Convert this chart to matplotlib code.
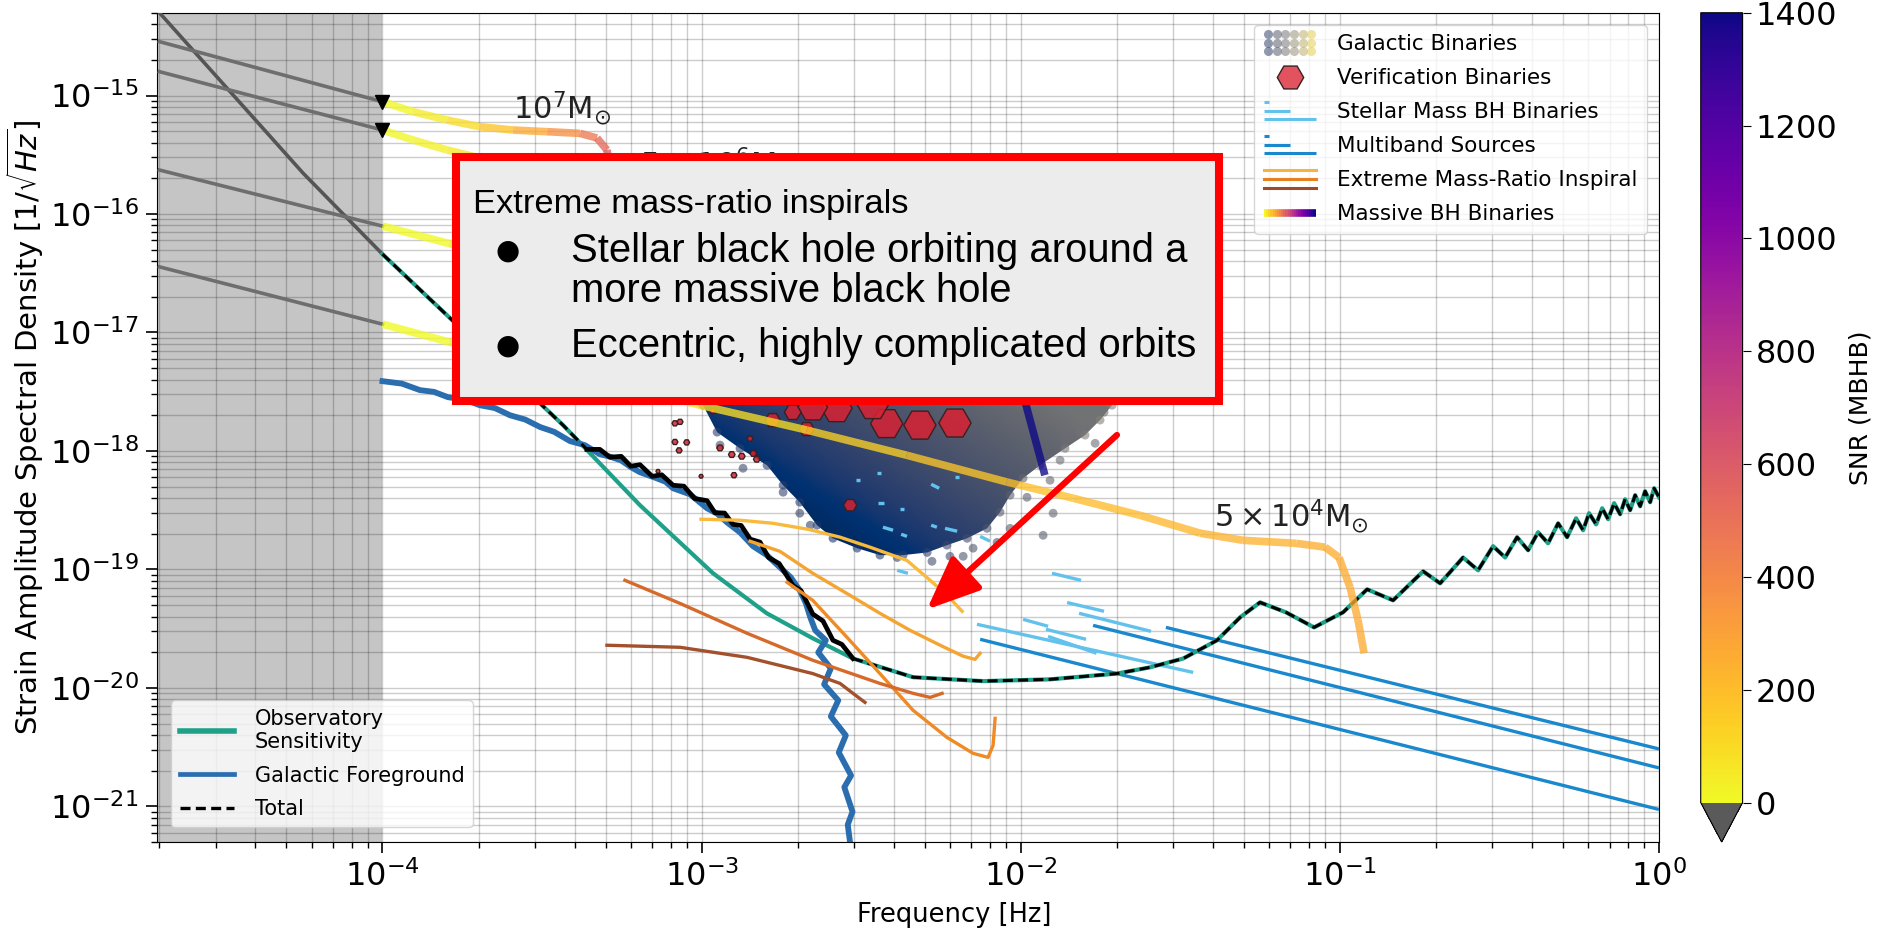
import numpy as np
import matplotlib
matplotlib.use('Agg')
import matplotlib.pyplot as plt
from matplotlib.collections import LineCollection
from matplotlib.lines import Line2D
from matplotlib.patches import Polygon, Rectangle
from matplotlib.legend_handler import HandlerBase
from matplotlib.image import AxesImage
from matplotlib.colors import Normalize
from matplotlib.ticker import LogLocator, NullFormatter

plt.rcParams['font.family'] = ['DejaVu Sans']
plt.rcParams['mathtext.fontset'] = 'dejavusans'

# %% data
# observatory sensitivity (below 1e-4 Hz drawn grey)
sens_lo_f = [2.0e-5, 5.64e-5, 1.0e-4]
sens_lo_h = [5.0e-15, 2.21e-16, 4.58e-17]
sens_f = [1.00e-4, 3.68e-4, 6.41e-4, 1.086e-3, 1.60e-3, 2.23e-3, 2.98e-3, 4.60e-3, 7.62e-3,
          1.235e-2, 2.00e-2, 2.54e-2, 3.23e-2, 4.12e-2, 4.87e-2, 5.62e-2, 6.78e-2, 8.30e-2,
          0.1023, 0.1217, 0.1468, 0.1823, 0.2061, 0.2432, 0.2710, 0.302, 0.3295, 0.3591,
          0.3889, 0.4179, 0.4491, 0.4829, 0.5152, 0.5497, 0.5782, 0.6037, 0.6352, 0.6635,
          0.6928, 0.7233, 0.7554, 0.7829, 0.8117, 0.8417, 0.8727, 0.9045, 0.9378, 0.9652, 1.0]
sens_h = [4.58e-17, 1.65e-18, 3.48e-19, 9.27e-20, 4.26e-20, 2.62e-20, 1.77e-20, 1.23e-20, 1.14e-20,
          1.18e-20, 1.32e-20, 1.49e-20, 1.77e-20, 2.52e-20, 3.94e-20, 5.27e-20, 4.34e-20, 3.24e-20,
          4.34e-20, 6.79e-20, 5.48e-20, 9.64e-20, 7.63e-20, 1.26e-19, 9.83e-20, 1.57e-19, 1.26e-19,
          1.87e-19, 1.45e-19, 2.06e-19, 1.66e-19, 2.45e-19, 1.87e-19, 2.70e-19, 2.14e-19, 2.98e-19,
          2.40e-19, 3.28e-19, 2.65e-19, 3.62e-19, 2.92e-19, 3.91e-19, 3.16e-19, 4.23e-19, 3.41e-19,
          4.57e-19, 3.69e-19, 4.84e-19, 4.06e-19]

# galactic foreground
fg_f = [1.00e-4, 1.15e-4, 1.31e-4, 1.45e-4, 1.605e-4, 1.8e-4, 2.02e-4, 2.25e-4, 2.51e-4, 2.8e-4, 3.12e-4,
        3.45e-4, 3.87e-4, 4.3e-4, 4.80e-4, 5.2e-4, 5.6e-4, 6.0e-4, 6.41e-4, 7.2e-4, 7.7e-4, 8.14e-4,
        9.2e-4, 1.04e-3, 1.12e-3, 1.20e-3, 1.32e-3, 1.449e-3, 1.6e-3, 1.76e-3, 1.9e-3, 2.03e-3, 2.12e-3,
        2.19e-3, 2.27e-3, 2.45e-3, 2.32e-3, 2.54e-3, 2.42e-3, 2.68e-3, 2.54e-3, 2.83e-3, 2.69e-3, 2.94e-3,
        2.80e-3, 2.97e-3, 2.87e-3, 2.99e-3]
fg_h = [3.88e-18, 3.70e-18, 3.26e-18, 3.15e-18, 2.84e-18, 2.72e-18, 2.43e-18, 2.30e-18, 2.00e-18, 1.84e-18,
        1.59e-18, 1.45e-18, 1.21e-18, 1.12e-18, 9.38e-19, 8.9e-19, 8.3e-19, 7.3e-19, 6.61e-19, 5.9e-19,
        5.5e-19, 4.84e-19, 4.3e-19, 3.28e-19, 2.95e-19, 2.50e-19, 2.05e-19, 1.57e-19, 1.32e-19, 1.04e-19,
        8.6e-20, 6.66e-20, 5.2e-20, 3.94e-20, 3.06e-20, 2.52e-20, 1.99e-20, 1.46e-20, 1.07e-20, 7.84e-21,
        5.74e-21, 3.97e-21, 2.85e-21, 1.82e-21, 1.45e-21, 9.0e-22, 7.0e-22, 3.0e-22]

# total: smooth low part, noisy foreground-dominated part, then equal to sensitivity
tot_lo_f = [1.00e-4, 3.68e-4, 4.37e-4]
tot_lo_h = [4.58e-17, 1.65e-18, 1.03e-18]
tot_mid_f = [4.37e-4, 4.8e-4, 5.16e-4, 5.6e-4, 6.0e-4, 6.41e-4, 7.0e-4, 7.5e-4, 8.14e-4, 8.8e-4,
             9.5e-4, 1.04e-3, 1.10e-3, 1.18e-3, 1.254e-3, 1.33e-3, 1.42e-3, 1.524e-3, 1.62e-3,
             1.75e-3, 1.934e-3, 2.05e-3, 2.23e-3, 2.40e-3, 2.58e-3, 2.75e-3, 2.98e-3]
tot_mid_h = [1.03e-18, 1.03e-18, 8.85e-19, 9.0e-19, 7.43e-19, 7.65e-19, 6.1e-19, 6.29e-19, 5.13e-19,
             5.04e-19, 3.97e-19, 3.80e-19, 3.01e-19, 2.99e-19, 2.40e-19, 2.35e-19, 1.80e-19, 1.70e-19,
             1.26e-19, 1.12e-19, 7.3e-20, 6.6e-20, 4.2e-20, 3.67e-20, 2.52e-20, 2.33e-20, 1.77e-20]

# massive BH binary tracks (grey part below 1e-4 Hz, then coloured by SNR)
mbhb_grey_f = [2.0e-5, 1.0e-4]
mbhbA_grey_h = [2.85e-15, 8.86e-16]
mbhbB_grey_h = [1.59e-15, 5.11e-16]
mbhbC_grey_h = [2.35e-16, 7.90e-17]
mbhbD_grey_h = [3.58e-17, 1.175e-17]

mbhbA_f = [1.0e-4, 1.246e-4, 1.593e-4, 2.02e-4, 2.565e-4, 3.28e-4, 4.16e-4, 4.70e-4, 5.05e-4, 5.24e-4, 5.39e-4, 5.55e-4]
mbhbA_h = [8.86e-16, 7.30e-16, 6.21e-16, 5.45e-16, 5.11e-16, 4.95e-16, 4.79e-16, 4.38e-16, 3.47e-16, 2.13e-16, 7.31e-17, 1.87e-17]
mbhbA_snr = [0, 20, 60, 130, 220, 320, 420, 500, 560, 600, 630, 650]

mbhbB_f = [1.0e-4, 1.246e-4, 1.593e-4, 2.02e-4, 3.60e-4, 6.41e-4, 8.56e-4, 9.20e-4, 9.54e-4]
mbhbB_h = [5.11e-16, 4.21e-16, 3.47e-16, 2.97e-16, 2.44e-16, 2.26e-16, 2.01e-16, 1.31e-16, 2.77e-17]
mbhbB_snr = [0, 15, 40, 80, 200, 400, 600, 700, 750]

mbhbC_f = [1.0e-4, 1.61e-4, 4.80e-4, 2.03e-3, 6.45e-3, 8.31e-3, 9.67e-3, 1.039e-2, 1.19e-2]
mbhbC_h = [7.90e-17, 5.65e-17, 2.51e-17, 1.27e-17, 9.49e-18, 8.95e-18, 5.61e-18, 2.43e-18, 6.24e-19]
mbhbC_snr = [0, 10, 60, 300, 800, 1200, 1400, 1400, 1400]

mbhbD_f = [1.0e-4, 1.61e-4, 9.65e-4, 2.135e-3, 4.39e-3, 9.04e-3, 1.459e-2, 2.365e-2, 3.65e-2,
           4.97e-2, 7.29e-2, 8.99e-2, 9.94e-2, 0.1076, 0.1140, 0.1191]
mbhbD_h = [1.175e-17, 8.33e-18, 2.47e-18, 1.50e-18, 9.20e-19, 5.47e-19, 3.99e-19, 2.86e-19, 2.02e-19,
           1.76e-19, 1.66e-19, 1.54e-19, 1.26e-19, 7.06e-20, 3.72e-20, 1.96e-20]
mbhbD_snr = [0, 5, 60, 110, 150, 180, 200, 215, 225, 235, 245, 250, 255, 260, 265, 270]

mass_labels = [r'$10^7\mathrm{M}_{\odot}$', r'$5\times10^6\mathrm{M}_{\odot}$', r'$5\times10^4\mathrm{M}_{\odot}$']
mass_label_f = [2.57e-4, 6.4e-4, 4.03e-2]
mass_label_h = [6.42e-16, 2.13e-16, 2.31e-19]

# EMRI tracks
emri_f = [
    [9.96e-4, 1.319e-3, 1.674e-3, 2.155e-3, 2.715e-3, 3.37e-3, 4.40e-3, 5.20e-3, 5.92e-3, 6.55e-3],
    [1.418e-3, 1.76e-3, 2.23e-3, 2.92e-3, 3.62e-3, 4.50e-3, 5.59e-3, 6.60e-3, 7.19e-3, 7.46e-3],
    [1.852e-3, 2.23e-3, 2.855e-3, 3.62e-3, 4.60e-3, 5.87e-3, 7.09e-3, 7.90e-3, 8.19e-3, 8.31e-3],
    [5.75e-4, 8.56e-4, 1.388e-3, 2.23e-3, 3.62e-3, 4.60e-3, 5.20e-3, 5.67e-3],
    [5.05e-4, 8.56e-4, 1.388e-3, 2.23e-3, 2.715e-3, 2.98e-3, 3.25e-3],
]
emri_h = [
    [2.65e-19, 2.60e-19, 2.45e-19, 2.18e-19, 1.87e-19, 1.54e-19, 1.19e-19, 8.09e-20, 5.93e-20, 4.43e-20],
    [1.73e-19, 1.42e-19, 9.27e-20, 6.03e-20, 4.26e-20, 3.06e-20, 2.29e-20, 1.85e-20, 1.74e-20, 1.96e-20],
    [7.78e-20, 5.48e-20, 2.67e-20, 1.32e-20, 6.46e-21, 3.82e-21, 2.80e-21, 2.59e-21, 3.27e-21, 5.53e-21],
    [8.09e-20, 5.16e-20, 2.89e-20, 1.71e-20, 1.09e-20, 8.99e-21, 8.31e-21, 8.99e-21],
    [2.29e-20, 2.20e-20, 1.81e-20, 1.32e-20, 1.09e-20, 8.99e-21, 7.54e-21],
]
emri_colors = ['#f8b93c', '#f5a431', '#ef8a25', '#d66a2b', '#a3502c']

# galactic binaries: outline of the dense cloud and loose points around it
gb_edge_f = [9.20e-4, 1.01e-3, 1.118e-3, 1.319e-3, 1.603e-3, 1.80e-3, 2.03e-3, 2.30e-3, 2.58e-3, 3.07e-3,
             3.62e-3, 4.28e-3, 5.09e-3, 5.87e-3, 6.79e-3, 7.84e-3, 8.61e-3, 9.26e-3, 1.017e-2, 1.149e-2,
             1.376e-2, 1.59e-2, 1.772e-2, 1.932e-2, 2.018e-2]
gb_edge_h = [4.80e-18, 2.43e-18, 1.44e-18, 1.05e-18, 7.57e-19, 5.13e-19, 3.69e-19, 2.36e-19, 1.83e-19, 1.51e-19,
             1.32e-19, 1.32e-19, 1.39e-19, 1.60e-19, 1.83e-19, 2.22e-19, 3.04e-19, 4.23e-19, 5.88e-19, 7.57e-19,
             1.05e-18, 1.36e-18, 1.82e-18, 2.43e-18, 4.80e-18]
gbo_f = [1.142e-3, 1.348e-3, 1.80e-3, 2.03e-3, 2.19e-3, 4.10e-3, 5.27e-3, 6.00e-3, 6.60e-3, 7.09e-3, 8.43e-3,
         9.26e-3, 1.175e-2, 1.263e-2, 1.235e-2, 1.328e-2, 1.38e-2, 1.534e-2, 1.649e-2, 1.824e-2, 1.71e-2, 1.046e-2]
gbo_h = [1.12e-18, 7.14e-19, 4.48e-19, 2.98e-19, 2.36e-19, 1.26e-19, 1.17e-19, 1.29e-19, 1.29e-19, 1.51e-19, 1.69e-19,
         2.22e-19, 1.94e-19, 2.98e-19, 5.65e-19, 8.34e-19, 1.23e-18, 1.41e-18, 1.82e-18, 2.12e-18, 1.16e-18, 4.06e-19]
gbo_c = [0.25, 0.22, 0.2, 0.2, 0.2, 0.2, 0.25, 0.25, 0.3, 0.3, 0.3, 0.35, 0.35, 0.38, 0.4, 0.42, 0.42, 0.45,
         0.45, 0.45, 0.42, 0.35]

# verification binaries
vb_f = [3.80e-3, 4.83e-3, 6.22e-3, 2.65e-3, 2.23e-3, 3.44e-3, 1.93e-3, 1.67e-3, 2.135e-3, 2.92e-3,
        8.25e-4, 8.56e-4, 8.25e-4, 8.98e-4, 8.50e-4, 1.083e-3, 1.142e-3, 1.243e-3, 1.336e-3, 1.418e-3,
        1.452e-3, 1.488e-3, 1.263e-3, 9.96e-4, 7.30e-4]
vb_h = [1.70e-18, 1.65e-18, 1.72e-18, 2.29e-18, 2.34e-18, 2.43e-18, 2.12e-18, 1.82e-18, 1.53e-18, 3.48e-19,
        1.71e-18, 1.76e-18, 1.19e-18, 1.18e-18, 1.01e-18, 2.16e-18, 1.06e-18, 9.32e-19, 9.02e-19, 1.27e-18,
        9.51e-19, 8.51e-19, 6.24e-19, 6.11e-19, 6.73e-19]
vb_snr = [60, 60, 60, 55, 50, 55, 16, 13, 13, 10, 2, 2, 2, 2, 2, 2, 2.5, 2.5, 2.5, 2, 2.5, 2.5, 2, 1, 1]

# stellar mass BH binaries (segments)
sbh_f0 = [7.29e-3, 1.253e-2, 1.397e-2, 1.523e-2, 1.017e-2, 1.20e-2, 1.218e-2, 4.10e-3, 3.05e-3, 3.545e-3,
          3.57e-3, 4.18e-3, 3.70e-3, 4.22e-3, 5.24e-3, 6.22e-3, 5.24e-3, 5.79e-3, 7.46e-3]
sbh_f1 = [3.47e-2, 1.545e-2, 1.824e-2, 2.56e-2, 1.218e-2, 1.602e-2, 1.727e-2, 4.43e-3, 3.14e-3, 3.65e-3,
          3.73e-3, 4.31e-3, 3.98e-3, 4.40e-3, 5.55e-3, 6.40e-3, 5.46e-3, 6.32e-3, 8.01e-3]
sbh_h0 = [3.44e-20, 9.27e-20, 5.25e-20, 4.26e-20, 3.79e-20, 3.12e-20, 2.72e-20, 9.83e-20, 5.71e-19, 6.54e-19,
          3.65e-19, 3.25e-19, 2.27e-19, 1.98e-19, 5.23e-19, 6.05e-19, 2.36e-19, 2.22e-19, 1.90e-19]
sbh_h1 = [1.35e-20, 8.09e-20, 4.43e-20, 3.00e-20, 3.31e-20, 2.57e-20, 1.96e-20, 9.27e-20, 5.71e-19, 6.54e-19,
          3.65e-19, 3.25e-19, 2.14e-19, 1.90e-19, 4.84e-19, 6.05e-19, 2.27e-19, 2.10e-19, 1.73e-19]

# multiband sources
mb_f0 = [7.46e-3, 1.685e-2, 2.85e-2]
mb_f1 = [1.0, 1.0, 1.0]
mb_h0 = [2.57e-20, 3.37e-20, 3.24e-20]
mb_h1 = [9.41e-22, 2.11e-21, 3.05e-21]

x_ticks = [1e-4, 1e-3, 1e-2, 1e-1, 1e0]
y_ticks = [1e-21, 1e-20, 1e-19, 1e-18, 1e-17, 1e-16, 1e-15]
cbar_ticks = [0, 200, 400, 600, 800, 1000, 1200, 1400]

box_title = 'Extreme mass-ratio inspirals'
box_lines = ['Stellar black hole orbiting around a', 'more massive black hole',
             'Eccentric, highly complicated orbits']

# %% figure
fig = plt.figure(figsize=(18.78, 9.34), dpi=100)
ax = fig.add_axes([0.0834, 0.0985, 0.8000, 0.8879])
cax = fig.add_axes([0.9056, 0.0985, 0.0223, 0.8879])
ax.set_xscale('log')
ax.set_yscale('log')
ax.set_xlim(1.96e-5, 1.0)
ax.set_ylim(5e-22, 5e-15)

cmap = plt.get_cmap('plasma_r').with_extremes(under='#5a5a5a')
norm = Normalize(0, 1400)

ax.axvspan(1.96e-5, 1e-4, color='#808080', alpha=0.45, lw=0, zorder=0.8)
ax.grid(True, which='both', color='k', alpha=0.2, lw=1.0)

# galactic binaries cloud: gradient clipped to the outline
cloud = Polygon(np.column_stack([gb_edge_f, gb_edge_h]), closed=True, transform=ax.transData,
                facecolor='none', edgecolor='none')
ax.add_patch(cloud)
uu, vv = np.meshgrid(np.linspace(0, 1, 300), np.linspace(0, 1, 300))


def cloud_shade(u, v):
    t = np.clip(((u - 0.455) * 0.16 + (v - 0.37) * 0.139) / 0.0448, 0, 1)
    return 0.05 + 0.40 * t


im = AxesImage(ax, cmap='cividis', norm=Normalize(0, 1), extent=(0, 1, 0, 1), origin='lower',
               interpolation='bilinear')
im.set_data(cloud_shade(uu, vv))
im.set_transform(ax.transAxes)
im.set_clip_path(cloud)
im.set_zorder(3)
ax.add_image(im)

edge_uv = ax.transAxes.inverted().transform(ax.transData.transform(np.column_stack([gb_edge_f, gb_edge_h])))
ax.scatter(gb_edge_f, gb_edge_h, s=40, c=plt.cm.cividis(cloud_shade(edge_uv[:, 0], edge_uv[:, 1]) + 0.08),
           alpha=0.6, lw=0, zorder=3.1)
ax.scatter(gbo_f, gbo_h, s=40, c=plt.cm.cividis(gbo_c), alpha=0.6, lw=0, zorder=3.1)

# verification binaries
ax.scatter(vb_f, vb_h, s=np.array(vb_snr) * 9, marker='H', facecolor=(0.85, 0.13, 0.2, 0.85),
           edgecolor='#3a2020', lw=1.0, zorder=4)

# stellar mass BH binaries and multiband sources
ax.add_collection(LineCollection([[(a, c), (b, d)] for a, b, c, d in zip(sbh_f0, sbh_f1, sbh_h0, sbh_h1)],
                                 colors='#63c2ec', lw=2.4, capstyle='butt', zorder=4.5))
ax.add_collection(LineCollection([[(a, c), (b, d)] for a, b, c, d in zip(mb_f0, mb_f1, mb_h0, mb_h1)],
                                 colors='#1a88cc', lw=2.4, capstyle='butt', zorder=4.5))

# noise curves
ax.plot(sens_lo_f, sens_lo_h, color='#555555', lw=2.6, zorder=5)
ax.plot(sens_f, sens_h, color='#1ea188', lw=3.0, zorder=5)
ax.plot(fg_f, fg_h, color='#2a6eb0', lw=4.2, zorder=5.2)
ax.plot(tot_lo_f, tot_lo_h, color='k', lw=2.2, dashes=(3.3, 1.7), zorder=5.5)
ax.plot(tot_mid_f, tot_mid_h, color='k', lw=3.4, zorder=5.5)
ax.plot(sens_f[6:], sens_h[6:], color='k', lw=2.2, dashes=(3.3, 1.7), zorder=5.5)

# EMRIs
for f, h, c in zip(emri_f, emri_h, emri_colors):
    ax.plot(f, h, color=c, lw=2.4, zorder=6)

# MBHB tracks
for gh in [mbhbA_grey_h, mbhbB_grey_h, mbhbC_grey_h, mbhbD_grey_h]:
    ax.plot(mbhb_grey_f, gh, color='#6e6e6e', lw=2.6, zorder=6)
for f, h, s in [(mbhbA_f, mbhbA_h, mbhbA_snr), (mbhbB_f, mbhbB_h, mbhbB_snr),
                (mbhbC_f, mbhbC_h, mbhbC_snr), (mbhbD_f, mbhbD_h, mbhbD_snr)]:
    pts = np.column_stack([f, h])
    segs = np.stack([pts[:-1], pts[1:]], axis=1)
    s = np.asarray(s, float)
    lc = LineCollection(segs, cmap=cmap, norm=norm, lw=5.5, alpha=0.78, capstyle='butt', zorder=7)
    lc.set_array(0.5 * (s[:-1] + s[1:]))
    ax.add_collection(lc)
ax.plot([mbhbA_f[0], mbhbB_f[0]], [mbhbA_h[0], mbhbB_h[0]], 'v', color='k', ms=10, zorder=8)
for s, x, y in zip(mass_labels, mass_label_f, mass_label_h):
    ax.text(x, y, s, fontsize=22, ha='left', va='baseline', color='#222222', zorder=8)

# axes styling
ax.set_xticks(x_ticks)
ax.set_yticks(y_ticks)
ax.xaxis.set_minor_locator(LogLocator(base=10, subs=np.arange(2, 10), numticks=100))
ax.yaxis.set_minor_locator(LogLocator(base=10, subs=np.arange(2, 10), numticks=100))
ax.xaxis.set_minor_formatter(NullFormatter())
ax.yaxis.set_minor_formatter(NullFormatter())
ax.tick_params(which='major', labelsize=23, length=8, width=1.2, pad=5)
ax.tick_params(which='minor', length=4, width=1.0)
ax.set_xlabel('Frequency [Hz]', fontsize=18.5)
ax.xaxis.set_label_coords(0.531, -0.072)
ax.set_ylabel(r'Strain Amplitude Spectral Density $[1/\sqrt{Hz}]$', fontsize=21, labelpad=3)
ax.set_xlim(1.96e-5, 1.0)
ax.set_ylim(5e-22, 5e-15)

# colorbar
sm = plt.cm.ScalarMappable(norm=norm, cmap=cmap)
cb = fig.colorbar(sm, cax=cax, extend='min')
cb.set_ticks(cbar_ticks)
cb.ax.tick_params(labelsize=23, length=6)
cb.set_label('SNR (MBHB)', fontsize=18, labelpad=8)


# %% legends
class GalHandler(HandlerBase):
    def create_artists(self, legend, orig_handle, xd, yd, w, h, fs, trans):
        arts = []
        for i in range(6):
            for j in range(3):
                x = -xd + (i + 0.5) * w / 6
                y = -yd + h / 2 + (j - 1) * 0.4 * fs
                arts.append(Line2D([x], [y], marker='o', ms=0.42 * fs, ls='none', mec='none',
                                   mfc=plt.cm.cividis(0.2 + 0.14 * i), alpha=0.55, transform=trans))
        return arts


class StaggerHandler(HandlerBase):
    def __init__(self, color):
        super().__init__()
        self.color = color

    def create_artists(self, legend, orig_handle, xd, yd, w, h, fs, trans):
        x0, yc, dy = -xd, -yd + h / 2, 0.4 * fs
        return [Line2D([x0, x0 + fr * w], [yc + off, yc + off], color=self.color, lw=2.2,
                       solid_capstyle='butt', transform=trans)
                for fr, off in [(0.1, dy), (0.5, 0), (1.0, -dy)]]


class StackHandler(HandlerBase):
    def create_artists(self, legend, orig_handle, xd, yd, w, h, fs, trans):
        x0, yc, dy = -xd, -yd + h / 2, 0.42 * fs
        return [Line2D([x0, x0 + w], [yc + off, yc + off], color=c, lw=2.2, transform=trans)
                for c, off in [('#f5b342', dy), ('#e8801f', 0), ('#9e4b2b', -dy)]]


class GradHandler(HandlerBase):
    def create_artists(self, legend, orig_handle, xd, yd, w, h, fs, trans):
        xs = np.linspace(-xd, -xd + w, 25)
        yc = -yd + h / 2
        segs = [[(xs[i], yc), (xs[i + 1], yc)] for i in range(24)]
        lc = LineCollection(segs, colors=plt.cm.plasma_r(np.linspace(0, 1, 24)), lw=5.5, transform=trans)
        return [lc]


hg, hs, hm, he, hb = [Line2D([], []) for _ in range(5)]
hv = Line2D([], [], marker='H', ls='none', ms=19, mfc=(0.88, 0.25, 0.3, 0.9), mec='#3a2020', mew=1.0)
leg1 = ax.legend([hg, hv, hs, hm, he, hb],
                 ['Galactic Binaries', 'Verification Binaries', 'Stellar Mass BH Binaries',
                  'Multiband Sources', 'Extreme Mass-Ratio Inspiral', 'Massive BH Binaries'],
                 handler_map={hg: GalHandler(), hs: StaggerHandler('#63c2ec'), hm: StaggerHandler('#1a88cc'),
                              he: StackHandler(), hb: GradHandler()},
                 loc='upper right', fontsize=15.5, handlelength=2.4, handletextpad=1.0,
                 borderaxespad=0.55, borderpad=0.45, labelspacing=0.65, framealpha=0.8)
leg1.set_zorder(30)
ax.add_artist(leg1)

leg2 = ax.legend([Line2D([], [], color='#1ea188', lw=4), Line2D([], [], color='#2a6eb0', lw=3.4),
                  Line2D([], [], color='k', lw=2.4, dashes=(3, 1.6))],
                 ['Observatory\nSensitivity', 'Galactic Foreground', 'Total'],
                 loc='lower left', fontsize=15, handlelength=2.6, handletextpad=1.0,
                 borderaxespad=0.7, borderpad=0.4, labelspacing=0.65, framealpha=0.8)
leg2.set_zorder(30)

# %% slide overlay: text box and arrow
box = Rectangle((0.1992, 0.5318), 0.7071 - 0.1992, 0.8260 - 0.5318, transform=ax.transAxes,
                facecolor='#ececec', edgecolor='#ff0000', lw=5.8, joinstyle='miter', zorder=40, clip_on=False)
ax.add_patch(box)
tfam = ['Liberation Sans', 'DejaVu Sans']
ax.text(0.2105, 0.7585, box_title, transform=ax.transAxes, fontsize=24.8, family=tfam,
        ha='left', va='baseline', zorder=41)
for x, y, s in [(0.2757, 0.6994, box_lines[0]), (0.2757, 0.6512, box_lines[1]), (0.2757, 0.5849, box_lines[2])]:
    ax.text(x, y, s, transform=ax.transAxes, fontsize=28.8, family=tfam, ha='left', va='baseline', zorder=41)
for y in [0.6994, 0.5849]:
    ax.text(0.2338, y + 0.004, '\u25cf', transform=ax.transAxes, fontsize=20, family=['DejaVu Sans'],
            ha='center', va='baseline', zorder=41)
ax.annotate('', xy=(0.5127, 0.2804), xytext=(0.6392, 0.4908), xycoords='axes fraction',
            textcoords='axes fraction',
            arrowprops=dict(arrowstyle='-|>,head_length=1.3,head_width=0.55', color='#ff0000', lw=4.5,
                            mutation_scale=25, shrinkA=0, shrinkB=0), zorder=41)

fig.savefig('out.png', dpi=100)
